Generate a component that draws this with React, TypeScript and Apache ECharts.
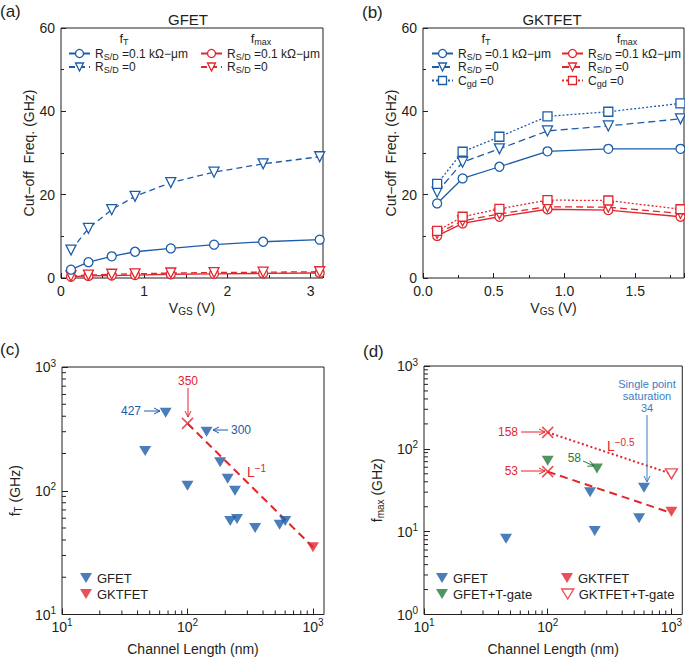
import React, { useEffect, useRef } from 'react';
import * as echarts from 'echarts';

const FONT = '"Liberation Sans", Arial, Helvetica, sans-serif';
const INK = '#231f20';
const BLUE = '#1d5ca9';
const RED = '#e1262d';
const GREEN = '#267a3c';
const NOTE_BLUE = '#3b7cc5';

// (a) GFET
const VGS_A = [0.12, 0.33, 0.61, 0.89, 1.32, 1.84, 2.43, 3.11];
const FT_A_RSD = [2.0, 3.8, 5.2, 6.3, 7.1, 8.0, 8.7, 9.2];
const FT_A_RSD0 = [6.7, 11.9, 16.4, 19.6, 22.9, 25.4, 27.4, 29.1];
const FMAX_A_RSD = [0.3, 0.5, 0.6, 0.7, 0.9, 1.0, 1.1, 1.2];
const FMAX_A_RSD0 = [0.5, 0.7, 0.9, 1.0, 1.2, 1.3, 1.4, 1.5];

// (b) GKTFET
const VGS_B = [0.10, 0.28, 0.54, 0.88, 1.31, 1.82];
const FT_B_RSD = [17.9, 23.9, 26.7, 30.4, 31.0, 31.0];
const FT_B_RSD0 = [20.6, 27.8, 31.0, 35.3, 36.5, 38.2];
const FT_B_CGD0 = [22.6, 30.3, 33.9, 38.8, 39.9, 41.9];
const FMAX_B_RSD = [10.1, 13.1, 14.7, 16.5, 16.3, 14.7];
const FMAX_B_RSD0 = [10.7, 13.7, 15.4, 17.1, 17.0, 15.5];
const FMAX_B_CGD0 = [11.3, 14.7, 16.6, 18.7, 18.6, 16.5];

// (c) fT vs channel length
const L_C_GFET = [67, 46, 100, 142, 182, 209, 239, 219, 248, 346, 542, 601];
const FT_C_GFET = [427, 210, 110, 300, 170, 125, 100, 57, 59, 50, 53, 57];
const L_C_GKTFET = [1000];
const FT_C_GKTFET = [35];
const L_C_FIT = [100, 1000];
const FT_C_FIT = [350, 35];
const L_C_MARK = [100];
const FT_C_MARK = [350];

// (d) fmax vs channel length
const L_D_GFET = [46, 220, 240, 548, 600];
const FMAX_D_GFET = [8.2, 30, 10.2, 14.5, 34];
const L_D_GFET_TG = [100, 250];
const FMAX_D_GFET_TG = [72, 58];
const L_D_GKTFET = [1000];
const FMAX_D_GKTFET = [17.4];
const L_D_GKTFET_TG = [1000];
const FMAX_D_GKTFET_TG = [50];
const L_D_FIT = [100, 1000];
const FMAX_D_FIT_TG = [158, 50];
const FMAX_D_FIT = [53, 16.8];
const L_D_MARK = [100, 100];
const FMAX_D_MARK = [158, 53];

// axis tick values
const LIN_Y_TICKS = [0, 20, 40, 60];
const LOG_MINOR_1 = [2, 3, 4, 5, 6, 7, 8, 9];
const LOG_MINOR_10 = [20, 30, 40, 50, 60, 70, 80, 90, 200, 300, 400, 500, 600, 700, 800, 900];

const pts = (xs: number[], ys: number[]) => xs.map((x, i) => [x, ys[i]]);

const DOWN_TRI = 'path://M0,0L12,0L6,10Z';
const CROSS = 'path://M0,0L10,10M10,0L0,10';

const richSet = (size: number, color: string) => ({
  n: { fontSize: size, fontFamily: FONT, color, fill: color, lineHeight: size + 3 },
  s: { fontSize: Math.round(size * 0.72), fontFamily: FONT, color, fill: color, lineHeight: 8, verticalAlign: 'bottom' },
  p: { fontSize: Math.round(size * 0.72), fontFamily: FONT, color, fill: color, lineHeight: 8, verticalAlign: 'top' },
});

const LOG_LABEL_RICH = {
  b: { fontSize: 14, fontFamily: FONT, color: INK, lineHeight: 18 },
  p: { fontSize: 10, fontFamily: FONT, color: INK, lineHeight: 8, verticalAlign: 'top' },
};
const logLabel = (v: number) => `{b|10}{p|${Math.round(Math.log10(v))}}`;

function linAxis(gridIndex: number, min: number, max: number, interval: number, name: string, gap: number, fmt: (v: number) => string, isY: boolean) {
  return {
    gridIndex, type: 'value', min, max, interval,
    axisLine: { show: false },
    axisTick: { show: true, inside: true, length: 5, lineStyle: { color: INK, width: 1 } },
    minorTick: { show: true, splitNumber: 2, length: 3, lineStyle: { color: INK, width: 1 } },
    splitLine: { show: false },
    axisLabel: { show: true, fontFamily: FONT, fontSize: 14, color: INK, margin: 6, formatter: fmt, showMaxLabel: isY ? true : false },
    name, nameLocation: 'middle', nameGap: gap,
    nameTextStyle: { fontFamily: FONT, fontSize: 14, color: INK, rich: richSet(14, INK) },
  };
}

function logAxis(gridIndex: number, min: number, max: number, name: string, gap: number, isY: boolean) {
  return {
    gridIndex, type: 'log', logBase: 10, min, max,
    axisLine: { show: false },
    axisTick: { show: true, inside: true, length: 6, lineStyle: { color: INK, width: 1 } },
    splitLine: { show: false },
    axisLabel: { show: true, formatter: logLabel, rich: LOG_LABEL_RICH, margin: isY ? 6 : 3, showMaxLabel: isY ? true : false },
    name, nameLocation: 'middle', nameGap: gap,
    nameTextStyle: { fontFamily: FONT, fontSize: 14, color: INK, rich: richSet(14, INK) },
  };
}

function minorTicks(idx: number, values: number[], dir: 'x' | 'y', edge: number) {
  return {
    type: 'custom', xAxisIndex: idx, yAxisIndex: idx, silent: true, clip: true, z: 4,
    data: values.map((v) => (dir === 'x' ? [v, edge] : [edge, v])),
    renderItem: (_p: any, api: any) => {
      const c = api.coord([api.value(0), api.value(1)]);
      const len = 4;
      return {
        type: 'line',
        shape: dir === 'x' ? { x1: c[0], y1: c[1], x2: c[0], y2: c[1] - len } : { x1: c[0], y1: c[1], x2: c[0] + len, y2: c[1] },
        style: { stroke: INK, lineWidth: 1 },
      };
    },
  };
}

function lineSeries(name: string, idx: number, xs: number[], ys: number[], color: string, sym: string, dash: any) {
  return {
    type: 'line', name, xAxisIndex: idx, yAxisIndex: idx,
    data: pts(xs, ys),
    symbol: sym === 'tri' ? 'triangle' : sym === 'sq' ? 'rect' : 'circle',
    symbolRotate: sym === 'tri' ? 180 : 0,
    symbolSize: sym === 'tri' ? 10 : 9,
    itemStyle: { color: '#ffffff', borderColor: color, borderWidth: 1.3 },
    lineStyle: { color, width: 1.3, type: dash },
    emphasis: { disabled: true },
    z: 3,
  };
}

function scatterSeries(name: string, idx: number, xs: number[], ys: number[], color: string, open = false) {
  return {
    type: 'scatter', name, xAxisIndex: idx, yAxisIndex: idx,
    data: pts(xs, ys),
    symbol: DOWN_TRI, symbolSize: [12, 10],
    itemStyle: open ? { color: '#ffffff', borderColor: color, borderWidth: 1.4 } : { color },
    emphasis: { disabled: true },
    z: 5,
  };
}

function fitSeries(name: string, idx: number, xs: number[], ys: number[], dash: any) {
  return {
    type: 'line', name, xAxisIndex: idx, yAxisIndex: idx, data: pts(xs, ys),
    symbol: 'none', lineStyle: { color: RED, width: 2, type: dash }, emphasis: { disabled: true }, z: 2,
  };
}

function crossSeries(name: string, idx: number, xs: number[], ys: number[]) {
  return {
    type: 'scatter', name, xAxisIndex: idx, yAxisIndex: idx, data: pts(xs, ys),
    symbol: CROSS, symbolSize: 11,
    itemStyle: { color: 'transparent', borderColor: RED, borderWidth: 1.6 },
    emphasis: { disabled: true }, z: 6,
  };
}

const LEG_RICH = richSet(12, INK);
function lineLegend(name: string, left: number, rowCenter: number, label: string) {
  return {
    data: [name], left, top: rowCenter - 7.5, padding: 0, itemGap: 0,
    itemWidth: 21, itemHeight: 10, selectedMode: false,
    formatter: () => label,
    textStyle: { fontFamily: FONT, fontSize: 12, color: INK, rich: LEG_RICH },
    lineStyle: { width: 2 },
    itemStyle: { borderWidth: 1.3 },
  };
}
function symLegend(name: string, left: number, rowCenter: number, label: string, open = false) {
  return {
    data: [name], left, top: rowCenter - 8, padding: 0, itemGap: 0,
    itemWidth: 12, itemHeight: 10, selectedMode: false,
    formatter: () => label,
    textStyle: { fontFamily: FONT, fontSize: 13, color: INK, lineHeight: 16 },
    itemStyle: { borderWidth: open ? 1.4 : 0 },
  };
}

const RSD01 = '{n|R}{s|S/D}{n| =0.1 kΩ−μm}';
const RSD0 = '{n|R}{s|S/D}{n| =0}';
const CGD0 = '{n|C}{s|gd}{n| =0}';

function txt(x: number, y: number, text: string, o: any = {}) {
  const size = o.size ?? 12;
  const color = o.color ?? INK;
  const align = o.align ?? 'left';
  return {
    type: 'text', x, y, silent: true, z: 10,
    style: {
      text, fill: color, fontFamily: FONT, fontSize: size, fontWeight: 'normal',
      align, verticalAlign: 'middle', textAlign: align, textVerticalAlign: 'middle',
      lineHeight: o.lineHeight, rich: richSet(size, color),
    },
  };
}

function arrow(x1: number, y1: number, x2: number, y2: number, color: string) {
  const dx = x2 - x1, dy = y2 - y1;
  const len = Math.sqrt(dx * dx + dy * dy);
  const ux = dx / len, uy = dy / len;
  const h = 6, w = 3;
  const bx = x2 - ux * h, by = y2 - uy * h;
  return [
    { type: 'line', silent: true, z: 10, shape: { x1, y1, x2, y2 }, style: { stroke: color, lineWidth: 1 } },
    {
      type: 'polyline', silent: true, z: 10,
      shape: { points: [[bx - uy * w, by + ux * w], [x2, y2], [bx + uy * w, by - ux * w]] },
      style: { stroke: color, lineWidth: 1, fill: 'none' },
    },
  ];
}

export default function App() {
  const ref = useRef<HTMLDivElement>(null);
  useEffect(() => {
    if (!ref.current) return;
    const chart = echarts.init(ref.current, null, { renderer: 'svg' });
    const gridBase = { show: true, borderColor: INK, borderWidth: 1, backgroundColor: 'transparent', containLabel: false };
    const option: any = {
      animation: false,
      backgroundColor: '#ffffff',
      textStyle: { fontFamily: FONT },
      grid: [
        { ...gridBase, left: 61, top: 28, width: 262, height: 250 },
        { ...gridBase, left: 423, top: 28, width: 261, height: 250 },
        { ...gridBase, left: 62, top: 367, width: 262, height: 248 },
        { ...gridBase, left: 424, top: 366, width: 260, height: 249 },
      ],
      xAxis: [
        linAxis(0, 0, 3.15, 1, '{n|V}{s|GS}{n| (V)}', 21, (v) => String(v), false),
        linAxis(1, 0, 1.845, 0.5, '{n|V}{s|GS}{n| (V)}', 21, (v) => v.toFixed(1), false),
        logAxis(2, 10, 1224, '{n|Channel Length (nm)}', 26, false),
        logAxis(3, 10, 1224, '{n|Channel Length (nm)}', 26, false),
      ],
      yAxis: [
        linAxis(0, LIN_Y_TICKS[0], LIN_Y_TICKS[3], LIN_Y_TICKS[1], '{n|Cut−off  Freq. (GHz)}', 20, (v) => String(v), true),
        linAxis(1, LIN_Y_TICKS[0], LIN_Y_TICKS[3], LIN_Y_TICKS[1], '{n|Cut−off  Freq. (GHz)}', 20, (v) => String(v), true),
        logAxis(2, 10, 1000, '{n|f}{s|T}{n| (GHz)}', 39, true),
        logAxis(3, 1, 1000, '{n|f}{s|max}{n| (GHz)}', 39, true),
      ],
      legend: [
        lineLegend('a_ft_rsd', 68, 55, RSD01),
        lineLegend('a_ft_rsd0', 68, 68.5, RSD0),
        lineLegend('a_fm_rsd', 200, 55, RSD01),
        lineLegend('a_fm_rsd0', 200, 68.5, RSD0),
        lineLegend('b_ft_rsd', 431, 55, RSD01),
        lineLegend('b_ft_rsd0', 431, 68.5, RSD0),
        lineLegend('b_ft_cgd0', 431, 82, CGD0),
        lineLegend('b_fm_rsd', 561, 55, RSD01),
        lineLegend('b_fm_rsd0', 561, 68.5, RSD0),
        lineLegend('b_fm_cgd0', 561, 82, CGD0),
        symLegend('c_gfet', 80, 578, 'GFET'),
        symLegend('c_gktfet', 80, 594, 'GKTFET'),
        symLegend('d_gfet', 436, 578, 'GFET'),
        symLegend('d_gfet_tg', 436, 594, 'GFET+T-gate'),
        symLegend('d_gktfet', 561, 578, 'GKTFET'),
        symLegend('d_gktfet_tg', 561, 594, 'GKTFET+T-gate', true),
      ],
      series: [
        lineSeries('a_fm_rsd', 0, VGS_A, FMAX_A_RSD, RED, 'circ', 'solid'),
        lineSeries('a_fm_rsd0', 0, VGS_A, FMAX_A_RSD0, RED, 'tri', [6, 4]),
        lineSeries('a_ft_rsd', 0, VGS_A, FT_A_RSD, BLUE, 'circ', 'solid'),
        lineSeries('a_ft_rsd0', 0, VGS_A, FT_A_RSD0, BLUE, 'tri', [6, 4]),

        lineSeries('b_ft_rsd', 1, VGS_B, FT_B_RSD, BLUE, 'circ', 'solid'),
        lineSeries('b_ft_rsd0', 1, VGS_B, FT_B_RSD0, BLUE, 'tri', [7, 4]),
        lineSeries('b_ft_cgd0', 1, VGS_B, FT_B_CGD0, BLUE, 'sq', [2, 2]),
        lineSeries('b_fm_rsd', 1, VGS_B, FMAX_B_RSD, RED, 'circ', 'solid'),
        lineSeries('b_fm_rsd0', 1, VGS_B, FMAX_B_RSD0, RED, 'tri', [7, 4]),
        lineSeries('b_fm_cgd0', 1, VGS_B, FMAX_B_CGD0, RED, 'sq', [2, 2]),

        fitSeries('c_fit', 2, L_C_FIT, FT_C_FIT, [8, 5]),
        scatterSeries('c_gfet', 2, L_C_GFET, FT_C_GFET, BLUE),
        scatterSeries('c_gktfet', 2, L_C_GKTFET, FT_C_GKTFET, RED),
        crossSeries('c_mark', 2, L_C_MARK, FT_C_MARK),
        minorTicks(2, LOG_MINOR_10, 'x', 10),
        minorTicks(2, LOG_MINOR_10, 'y', 10),

        fitSeries('d_fit_tg', 3, L_D_FIT, FMAX_D_FIT_TG, [2, 2.5]),
        fitSeries('d_fit', 3, L_D_FIT, FMAX_D_FIT, [8, 5]),
        scatterSeries('d_gfet', 3, L_D_GFET, FMAX_D_GFET, BLUE),
        scatterSeries('d_gfet_tg', 3, L_D_GFET_TG, FMAX_D_GFET_TG, GREEN),
        scatterSeries('d_gktfet', 3, L_D_GKTFET, FMAX_D_GKTFET, RED),
        scatterSeries('d_gktfet_tg', 3, L_D_GKTFET_TG, FMAX_D_GKTFET_TG, RED, true),
        crossSeries('d_mark', 3, L_D_MARK, FMAX_D_MARK),
        minorTicks(3, LOG_MINOR_10, 'x', 1),
        minorTicks(3, LOG_MINOR_1.concat(LOG_MINOR_10), 'y', 10),
      ],
      graphic: [
        txt(0, 11, '(a)', { size: 17 }),
        txt(362, 12, '(b)', { size: 17 }),
        txt(0, 349, '(c)', { size: 17 }),
        txt(363, 351, '(d)', { size: 17 }),
        txt(188, 19, 'GFET', { size: 15, align: 'center' }),
        txt(552, 19, 'GKTFET', { size: 15, align: 'center' }),
        txt(124, 38, '{n|f}{s|T}', { size: 13, align: 'center' }),
        txt(261, 38, '{n|f}{s|max}', { size: 13, align: 'center' }),
        txt(486, 38, '{n|f}{s|T}', { size: 13, align: 'center' }),
        txt(627, 38, '{n|f}{s|max}', { size: 13, align: 'center' }),

        txt(141, 411, '427', { color: BLUE, align: 'right' }),
        ...arrow(144, 411, 160, 411, BLUE),
        txt(188, 381, '350', { color: RED, align: 'center' }),
        ...arrow(188, 388, 188, 417, RED),
        ...arrow(228, 430, 213, 430, BLUE),
        txt(231, 430, '300', { color: BLUE }),
        txt(247, 472, '{n|L}{p|−1}', { color: RED, size: 14 }),

        txt(518, 432, '158', { color: RED, align: 'right' }),
        ...arrow(521, 432, 545, 432, RED),
        txt(518, 471, '53', { color: RED, align: 'right' }),
        ...arrow(521, 471, 545, 471, RED),
        txt(581, 458, '58', { color: GREEN, align: 'right' }),
        ...arrow(583, 461, 594, 466, GREEN),
        txt(607, 446, '{n|L}{p|−0.5}', { color: RED, size: 14 }),
        txt(647, 384, 'Single point', { color: NOTE_BLUE, align: 'center', size: 11, lineHeight: 12 }),
        txt(647, 396, 'saturation', { color: NOTE_BLUE, align: 'center', size: 11, lineHeight: 12 }),
        txt(647, 408, '34', { color: NOTE_BLUE, align: 'center', size: 11, lineHeight: 12 }),
        ...arrow(647, 415, 647, 482, NOTE_BLUE),
      ],
    };
    chart.setOption(option);
    return () => chart.dispose();
  }, []);
  return <div ref={ref} style={{ position: 'fixed', left: 0, top: 0, width: 685, height: 657, background: '#fff' }} />;
}
